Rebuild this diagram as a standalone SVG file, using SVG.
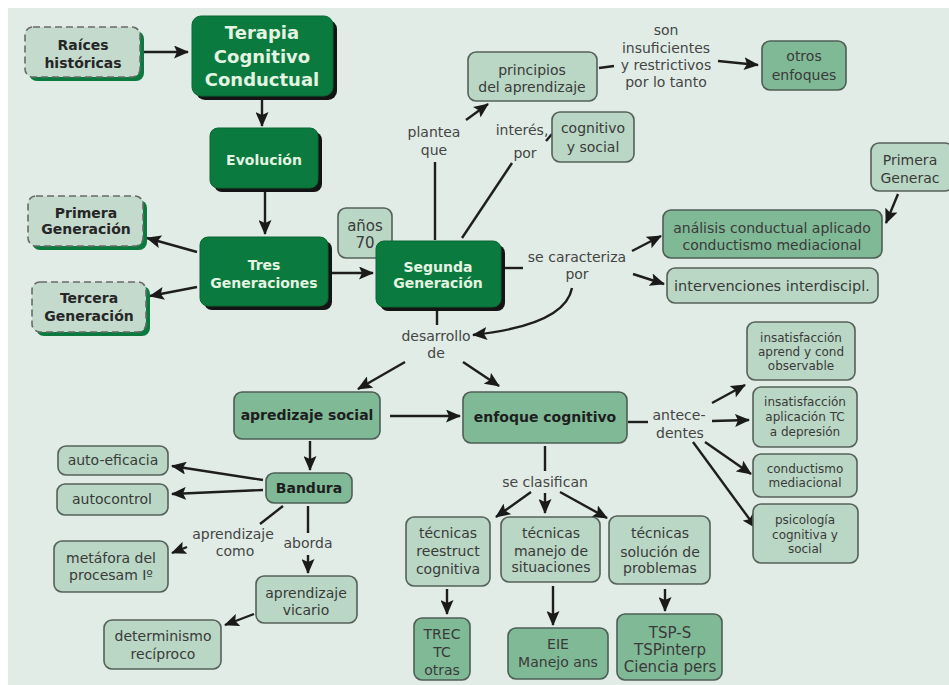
<svg xmlns="http://www.w3.org/2000/svg" width="949" height="685" viewBox="0 0 949 685">
<style>
text{font-family:"DejaVu Sans","Verdana",sans-serif;font-size:14px;text-anchor:middle;fill:#3a3a3a}
.dk rect.f{fill:#0b7a3e;stroke:#0a6633;stroke-width:1}
.dk rect.s{fill:#141414}
.dk text{fill:#e4f4e2;font-weight:bold}
.ds rect.f{fill:#c3dacd;stroke:#6a6a6a;stroke-width:1.6;stroke-dasharray:7 4}
.ds rect.s{fill:#0b7a3e}
.ds text{fill:#262626;font-weight:bold}
.md rect{fill:#80b996;stroke:#4e5e55;stroke-width:1.6}
.lt rect{fill:#b9d7c4;stroke:#55615a;stroke-width:1.6}
.b{font-weight:bold;fill:#1e1e1e}
.sm{font-size:12px}
.lbl{fill:#454545}
#connectors line,#connectors path{stroke:#1e1e1e;stroke-width:2.4;fill:none}
</style>
<defs>
<marker id="ah" viewBox="0 0 15 13" refX="14" refY="6.5" markerWidth="15" markerHeight="13" orient="auto" markerUnits="userSpaceOnUse">
<path d="M0,0 L15,6.5 L0,13 L3,6.5 Z" fill="#1a1a1a"/>
</marker>
</defs>
<rect x="0" y="0" width="949" height="685" fill="#ffffff"/>
<rect x="8" y="8" width="941" height="677" fill="#e0ece5"/>

<g id="connectors">
<line x1="142" y1="52" x2="188" y2="52" marker-end="url(#ah)"/>
<line x1="262" y1="99" x2="262" y2="126" marker-end="url(#ah)"/>
<line x1="265" y1="192" x2="265" y2="234" marker-end="url(#ah)"/>
<line x1="197" y1="252" x2="147" y2="238" marker-end="url(#ah)"/>
<line x1="197" y1="287" x2="150" y2="296" marker-end="url(#ah)"/>
<line x1="332" y1="273" x2="373" y2="273" marker-end="url(#ah)"/>
<line x1="435" y1="240" x2="435" y2="162"/>
<line x1="466" y1="120" x2="488" y2="104" marker-end="url(#ah)"/>
<line x1="462" y1="238" x2="512" y2="163"/>
<line x1="546" y1="141" x2="552" y2="134"/>
<line x1="599" y1="68" x2="614" y2="66"/>
<line x1="718" y1="61" x2="758" y2="65" marker-end="url(#ah)"/>
<line x1="503" y1="268" x2="523" y2="268"/>
<line x1="632" y1="251" x2="661" y2="236" marker-end="url(#ah)"/>
<line x1="633" y1="274" x2="664" y2="284" marker-end="url(#ah)"/>
<path d="M572,288 Q565,325 473,335" marker-end="url(#ah)"/>
<line x1="898" y1="194" x2="886" y2="223" marker-end="url(#ah)"/>
<line x1="437" y1="308" x2="437" y2="325"/>
<line x1="405" y1="362" x2="358" y2="389" marker-end="url(#ah)"/>
<line x1="463" y1="362" x2="499" y2="386" marker-end="url(#ah)"/>
<line x1="390" y1="416" x2="460" y2="416" marker-end="url(#ah)"/>
<line x1="310" y1="441" x2="310" y2="470" marker-end="url(#ah)"/>
<line x1="263" y1="480" x2="172" y2="466" marker-end="url(#ah)"/>
<line x1="263" y1="490" x2="172" y2="494" marker-end="url(#ah)"/>
<line x1="283" y1="506" x2="260" y2="524"/>
<line x1="187" y1="547" x2="172" y2="553" marker-end="url(#ah)"/>
<line x1="308" y1="506" x2="308" y2="533"/>
<line x1="308" y1="555" x2="308" y2="573" marker-end="url(#ah)"/>
<line x1="254" y1="614" x2="225" y2="625" marker-end="url(#ah)"/>
<line x1="628" y1="422" x2="648" y2="422"/>
<line x1="712" y1="403" x2="745" y2="385" marker-end="url(#ah)"/>
<line x1="712" y1="421" x2="749" y2="420" marker-end="url(#ah)"/>
<line x1="705" y1="442" x2="751" y2="474" marker-end="url(#ah)"/>
<line x1="693" y1="442" x2="756" y2="528" marker-end="url(#ah)"/>
<line x1="545" y1="446" x2="545" y2="471"/>
<line x1="531" y1="492" x2="496" y2="517" marker-end="url(#ah)"/>
<line x1="545" y1="493" x2="545" y2="513" marker-end="url(#ah)"/>
<line x1="560" y1="492" x2="607" y2="518" marker-end="url(#ah)"/>
<line x1="447" y1="589" x2="447" y2="614" marker-end="url(#ah)"/>
<line x1="553" y1="586" x2="553" y2="625" marker-end="url(#ah)"/>
<line x1="665" y1="589" x2="665" y2="611" marker-end="url(#ah)"/>
</g>

<g id="labels">
<text class="lbl" x="434" y="137">plantea</text>
<text class="lbl" x="434" y="155">que</text>
<text class="lbl" x="522" y="135">interés,</text>
<text class="lbl" x="525" y="158">por</text>
<text class="lbl" x="666" y="35">son</text>
<text class="lbl" x="666" y="53">insuficientes</text>
<text class="lbl" x="666" y="70">y restrictivos</text>
<text class="lbl" x="666" y="87">por lo tanto</text>
<text class="lbl" x="577" y="262">se caracteriza</text>
<text class="lbl" x="577" y="279">por</text>
<text class="lbl" x="436" y="341">desarrollo</text>
<text class="lbl" x="436" y="358">de</text>
<text class="lbl" x="233" y="539">aprendizaje</text>
<text class="lbl" x="235" y="556">como</text>
<text class="lbl" x="308" y="548">aborda</text>
<text class="lbl" x="679" y="420">antece-</text>
<text class="lbl" x="680" y="438">dentes</text>
<text class="lbl" x="545" y="487">se clasifican</text>
</g>

<g id="raices" class="ds"><rect class="s" x="29" y="31" width="115" height="50" rx="8"/><rect class="f" x="25" y="27" width="115" height="50" rx="8"/><text x="83" y="50">Raíces</text><text x="83" y="68">históricas</text></g>
<g id="terapia" class="dk"><rect class="s" x="196" y="20" width="141" height="80" rx="9"/><rect class="f" x="192" y="16" width="141" height="80" rx="9"/><text x="262" y="39" style="font-size:18px">Terapia</text><text x="262" y="63" style="font-size:18px">Cognitivo</text><text x="262" y="86" style="font-size:18px">Conductual</text></g>
<g id="evolucion" class="dk"><rect class="s" x="214" y="132" width="108" height="60" rx="8"/><rect class="f" x="210" y="128" width="108" height="60" rx="8"/><text x="264" y="165">Evolución</text></g>
<g id="tres" class="dk"><rect class="s" x="204" y="241" width="128" height="69" rx="8"/><rect class="f" x="200" y="237" width="128" height="69" rx="8"/><text x="264" y="270">Tres</text><text x="264" y="288">Generaciones</text></g>
<g id="primera" class="ds"><rect class="s" x="32" y="200" width="115" height="50" rx="8"/><rect class="f" x="28" y="196" width="115" height="50" rx="8"/><text x="86" y="218">Primera</text><text x="86" y="234">Generación</text></g>
<g id="tercera" class="ds"><rect class="s" x="36" y="286" width="114" height="50" rx="8"/><rect class="f" x="32" y="282" width="114" height="50" rx="8"/><text x="89" y="303">Tercera</text><text x="89" y="321">Generación</text></g>
<g id="anos70" class="lt"><rect x="338" y="208" width="54" height="50" rx="8"/><text x="365" y="231" style="font-size:15px">años</text><text x="365" y="248" style="font-size:15px">70</text></g>
<g id="segunda" class="dk"><rect class="s" x="380" y="245" width="125" height="66" rx="8"/><rect class="f" x="376" y="241" width="125" height="66" rx="8"/><text x="438" y="272">Segunda</text><text x="438" y="288">Generación</text></g>
<g id="principios" class="lt"><rect x="468" y="52" width="129" height="49" rx="8"/><text x="532" y="75">principios</text><text x="532" y="92">del aprendizaje</text></g>
<g id="cognitivo" class="lt"><rect x="552" y="112" width="82" height="50" rx="8"/><text x="593" y="133">cognitivo</text><text x="593" y="152">y social</text></g>
<g id="otros" class="md"><rect x="762" y="41" width="84" height="49" rx="8"/><text x="804" y="61">otros</text><text x="804" y="80">enfoques</text></g>
<g id="primerag" class="lt"><rect x="871" y="143" width="82" height="48" rx="8"/><text x="910" y="165">Primera</text><text x="910" y="183">Generac</text></g>
<g id="analisis" class="md"><rect x="663" y="210" width="219" height="48" rx="8"/><text x="772" y="233">análisis conductual aplicado</text><text x="772" y="250">conductismo mediacional</text></g>
<g id="intervenciones" class="lt"><rect x="667" y="268" width="211" height="35" rx="8"/><text x="772" y="291" style="font-size:14.5px">intervenciones interdiscipl.</text></g>
<g id="apsocial" class="md"><rect x="234" y="392" width="146" height="47" rx="8"/><text class="b" x="307" y="420">apredizaje social</text></g>
<g id="enfoque" class="md"><rect x="463" y="392" width="164" height="51" rx="8"/><text class="b" x="545" y="422">enfoque cognitivo</text></g>
<g id="bandura" class="md"><rect x="266" y="473" width="86" height="30" rx="8"/><text class="b" x="309" y="493">Bandura</text></g>
<g id="autoeficacia" class="lt"><rect x="58" y="446" width="110" height="29" rx="8"/><text x="113" y="465">auto-eficacia</text></g>
<g id="autocontrol" class="lt"><rect x="57" y="484" width="111" height="31" rx="8"/><text x="112" y="504">autocontrol</text></g>
<g id="metafora" class="lt"><rect x="54" y="541" width="114" height="51" rx="8"/><text x="111" y="563">metáfora del</text><text x="111" y="580">procesam Iº</text></g>
<g id="vicario" class="lt"><rect x="256" y="576" width="101" height="47" rx="8"/><text x="306" y="598">aprendizaje</text><text x="306" y="615">vicario</text></g>
<g id="determinismo" class="lt"><rect x="104" y="620" width="117" height="49" rx="8"/><text x="163" y="641">determinismo</text><text x="163" y="659">recíproco</text></g>
<g id="insat1" class="lt"><rect x="747" y="322" width="108" height="58" rx="8"/><text class="sm" x="801" y="342">insatisfacción</text><text class="sm" x="801" y="356">aprend y cond</text><text class="sm" x="801" y="370">observable</text></g>
<g id="insat2" class="lt"><rect x="753" y="387" width="104" height="60" rx="8"/><text class="sm" x="805" y="406">insatisfacción</text><text class="sm" x="805" y="421">aplicación TC</text><text class="sm" x="805" y="436">a depresión</text></g>
<g id="condmed" class="lt"><rect x="753" y="454" width="104" height="43" rx="8"/><text class="sm" x="805" y="473">conductismo</text><text class="sm" x="805" y="487">mediacional</text></g>
<g id="psicologia" class="lt"><rect x="753" y="504" width="105" height="59" rx="8"/><text class="sm" x="805" y="524">psicología</text><text class="sm" x="805" y="539">cognitiva y</text><text class="sm" x="805" y="553">social</text></g>
<g id="reestruct" class="lt"><rect x="406" y="517" width="84" height="69" rx="8"/><text x="448" y="538">técnicas</text><text x="448" y="556">reestruct</text><text x="448" y="574">cognitiva</text></g>
<g id="manejo" class="lt"><rect x="501" y="517" width="99" height="65" rx="8"/><text x="551" y="538">técnicas</text><text x="551" y="556">manejo de</text><text x="551" y="572">situaciones</text></g>
<g id="solucion" class="lt"><rect x="609" y="516" width="101" height="68" rx="8"/><text x="660" y="538">técnicas</text><text x="660" y="557">solución de</text><text x="660" y="573">problemas</text></g>
<g id="trec" class="md"><rect x="414" y="618" width="56" height="62" rx="8"/><text x="442" y="639">TREC</text><text x="442" y="657">TC</text><text x="442" y="675">otras</text></g>
<g id="eie" class="md"><rect x="508" y="628" width="100" height="51" rx="8"/><text x="558" y="649">EIE</text><text x="558" y="667">Manejo ans</text></g>
<g id="tsp" class="md"><rect x="617" y="614" width="105" height="66" rx="8"/><text x="670" y="638" style="font-size:15px">TSP-S</text><text x="670" y="655" style="font-size:15px">TSPinterp</text><text x="670" y="672" style="font-size:15px">Ciencia pers</text></g>
</svg>
